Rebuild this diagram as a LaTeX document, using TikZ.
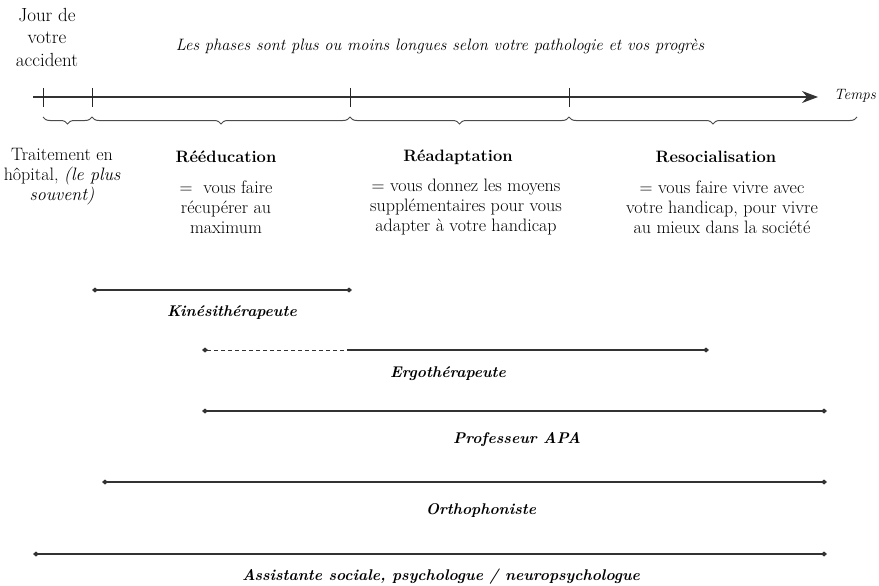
\documentclass[tikz,border=0pt]{standalone}
\usetikzlibrary{arrows.meta,decorations.pathreplacing}
\begin{document}
\begin{tikzpicture}[x=1pt,y=-1pt,
  body/.style={font=\fontsize{18}{20}\selectfont, align=center, inner sep=0pt},
  phase/.style={font=\fontsize{16.5}{20}\selectfont\bfseries, inner sep=0pt},
  note/.style={font=\fontsize{16.5}{18}\selectfont\itshape, inner sep=0pt},
  who/.style={font=\fontsize{15.5}{18}\selectfont\bfseries\itshape, inner sep=0pt},
  tick/.style={line width=0.9pt, black!85},
  axis/.style={line width=1.2pt, black!80, -{Stealth[length=16pt,width=12pt]}},
  bracket/.style={line width=1pt, black!70, decorate, decoration={brace, mirror, amplitude=7pt}},
  span/.style={line width=1.4pt, black!80, {Diamond[length=6pt,width=5pt]}-{Diamond[length=6pt,width=5pt]}},
  spanstart/.style={line width=1.4pt, black!80, {Diamond[length=6pt,width=5pt]}-},
  spanend/.style={line width=1.4pt, black!80, -{Diamond[length=6pt,width=5pt]}},
]
\useasboundingbox (0,0) rectangle (879,586);

% time axis
\coordinate (a0) at (33,97);
\coordinate (a1) at (818,97);
\draw[axis] (a0) -- (a1);
\node[note, font=\fontsize{15}{18}\selectfont\itshape, anchor=west] (temps) at (834,96) {Temps};

% phase boundaries
\foreach \n/\x in {t0/43, t1/92, t2/350, t3/569}{
  \coordinate (\n) at (\x,97);
  \draw[tick] (\x,88) -- (\x,107);
}
\coordinate (t4) at (857,97);

% braces under the axis
\foreach \p/\q in {t0/t1, t1/t2, t2/t3, t3/t4}{
  \draw[bracket] ([yshift=-20pt]\p) -- ([yshift=-20pt]\q);
}

% header texts
\node[body, font=\fontsize{19}{22.5}\selectfont] (jour) at (47,37) {Jour de\\votre\\accident};
\node[note] (phases) at (440,46) {Les phases sont plus ou moins longues selon votre pathologie et vos progrès};

% phases
\node[body] (hop) at (62,177) {Traitement en\\hôpital, {\itshape (le plus}\\{\itshape souvent)}};
\node[phase] (reed) at (226,157) {Rééducation};
\node[body] (reedt) at (226,207) {=\ \ vous faire\\récupérer au\\maximum};
\node[phase] (read) at (458,157) {Réadaptation};
\node[body] (readt) at (466,207) {= vous donnez les moyens\\supplémentaires pour vous\\adapter à votre handicap};
\node[phase] (reso) at (716,157) {Resocialisation};
\node[body] (resot) at (722,207) {= vous faire vivre avec\\votre handicap, pour vivre\\au mieux dans la société};

% professionals and their periods of intervention
\coordinate (k0) at (92,290);  \coordinate (k1) at (352,290);
\draw[span] (k0) -- (k1);
\node[who] (kine) at (232,313) {Kinésithérapeute};

\coordinate (e0) at (202,350); \coordinate (em) at (347,350); \coordinate (e1) at (709,350);
\draw[spanstart, dash pattern=on 4pt off 3pt, line width=1pt] (e0) -- (em);
\draw[spanend] (em) -- (e1);
\node[who] (ergo) at (448,374) {Ergothérapeute};

\coordinate (p0) at (202,411); \coordinate (p1) at (827,411);
\draw[span] (p0) -- (p1);
\node[who] (apa) at (517,440) {Professeur APA};

\coordinate (o0) at (102,482); \coordinate (o1) at (827,482);
\draw[span] (o0) -- (o1);
\node[who] (ortho) at (481,511) {Orthophoniste};

\coordinate (s0) at (33,554); \coordinate (s1) at (827,554);
\draw[span] (s0) -- (s1);
\node[who] (psy) at (441,577) {Assistante sociale, psychologue / neuropsychologue};
\end{tikzpicture}
\end{document}
